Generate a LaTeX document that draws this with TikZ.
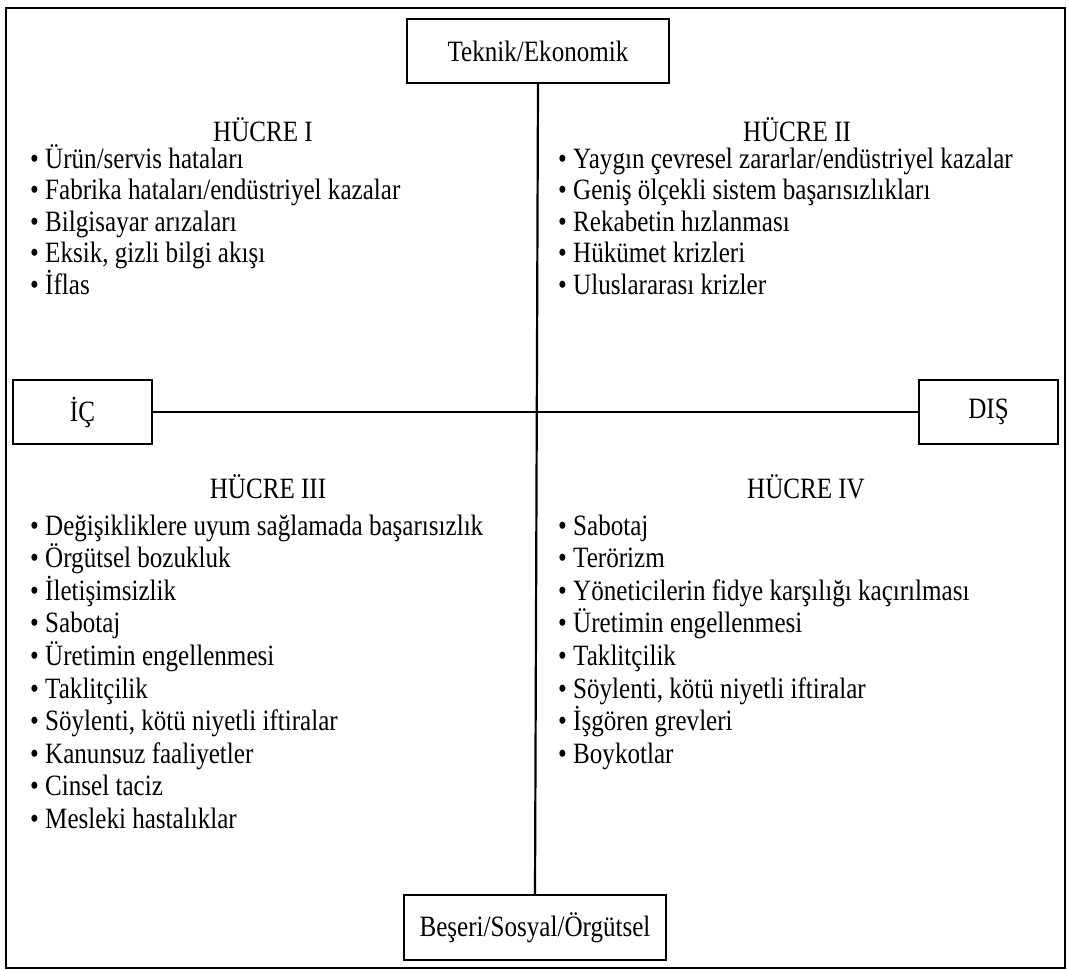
\documentclass[tikz,border=0pt]{standalone}
\usepackage{fontspec}
\setmainfont{Liberation Serif}[FakeStretch=0.85]
\begin{document}
\begin{tikzpicture}[x=1pt,y=-1pt,
  txt/.style={font=\fontsize{29.5}{34}\selectfont},
  frame/.style={line width=2.6pt},
  axisbox/.style={draw,line width=2.2pt,inner sep=0pt,txt},
  axis/.style={line width=2.2pt},
  cellhead/.style={inner sep=0pt,anchor=base,txt},
  item/.style={anchor=base west,inner sep=0pt,txt}]
\useasboundingbox (0,0) rectangle (1068,970);
% outer frame
\draw[frame] (6,8) rectangle (1065,968);

% axis end boxes
\node[axisbox,minimum width=262pt,minimum height=64pt] (top) at (538,51) {Teknik/Ekonomik};
\node[axisbox,minimum width=262pt,minimum height=65pt] (bot) at (535,927.5) {Beşeri/Sosyal/Örgütsel};
\node[axisbox,minimum width=139pt,minimum height=64pt] (ic) at (82.5,412) {İÇ};
\node[axisbox,minimum width=139pt,minimum height=64pt] (dis) at (988.5,412) {DIŞ};

% axes
\draw[axis] (top.south) -- (bot.north);
\draw[axis] (ic.east) -- (dis.west);

% cell headings
\node[cellhead] (h1) at (263,141) {HÜCRE I};
\node[cellhead] (h2) at (797,141) {HÜCRE II};
\node[cellhead] (h3) at (268,498) {HÜCRE III};
\node[cellhead] (h4) at (806,498) {HÜCRE IV};

% cell I
\foreach \t [count=\i] in {Ürün/servis hataları,Fabrika hataları/endüstriyel kazalar,
  Bilgisayar arızaları,{Eksik, gizli bilgi akışı},İflas}
  \node[item] (a\i) at (30,{168+31.6*(\i-1)}) {\textbullet\ \t};

% cell II
\foreach \t [count=\i] in {Yaygın çevresel zararlar/endüstriyel kazalar,
  Geniş ölçekli sistem başarısızlıkları,Rekabetin hızlanması,
  Hükümet krizleri,Uluslararası krizler}
  \node[item] (b\i) at (558,{168+31.6*(\i-1)}) {\textbullet\ \t};

% cell III
\foreach \t [count=\i] in {Değişikliklere uyum sağlamada başarısızlık,Örgütsel bozukluk,
  İletişimsizlik,Sabotaj,Üretimin engellenmesi,Taklitçilik,
  {Söylenti, kötü niyetli iftiralar},Kanunsuz faaliyetler,Cinsel taciz,Mesleki hastalıklar}
  \node[item] (c\i) at (30,{535+32.6*(\i-1)}) {\textbullet\ \t};

% cell IV
\foreach \t [count=\i] in {Sabotaj,Terörizm,Yöneticilerin fidye karşılığı kaçırılması,
  Üretimin engellenmesi,Taklitçilik,{Söylenti, kötü niyetli iftiralar},
  İşgören grevleri,Boykotlar}
  \node[item] (d\i) at (558,{535+32.6*(\i-1)}) {\textbullet\ \t};
\end{tikzpicture}
\end{document}
